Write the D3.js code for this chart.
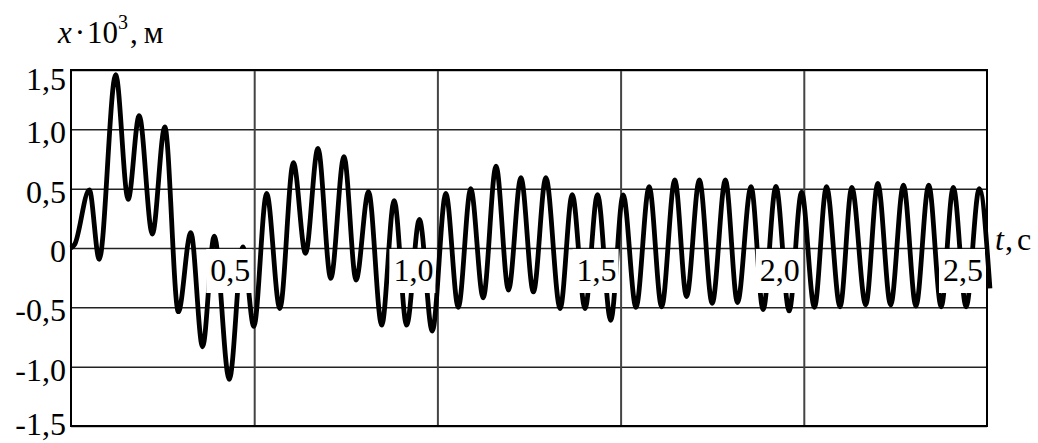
<!DOCTYPE html>
<html>
<head>
<meta charset="utf-8">
<script src="https://cdn.jsdelivr.net/npm/d3@7"></script>
<style>
  body { margin: 0; background: #fff; }
  svg text { font-family: "Liberation Serif", "Times New Roman", serif; fill: #000; }
</style>
</head>
<body>
<div id="chart"></div>
<script>
// chart size and plot box
const width = 1038;
const height = 443;
const plot_left = 71, plot_right = 987, plot_top = 70, plot_bottom = 426;

// time of each peak / trough (s)
const tValues = [
    0, 0.01, 0.05, 0.077, 0.122, 0.156, 0.186, 0.222, 0.256, 0.293, 0.327, 0.359, 0.391, 0.432, 0.469,
    0.499, 0.534, 0.570, 0.607, 0.640, 0.674, 0.709, 0.745, 0.778, 0.812, 0.848, 0.882, 0.916, 0.951,
    0.986, 1.023, 1.057, 1.091, 1.125, 1.160, 1.194, 1.228, 1.262, 1.296, 1.335, 1.368, 1.403, 1.437,
    1.473, 1.507, 1.542, 1.578, 1.612, 1.648, 1.680, 1.715, 1.750, 1.786, 1.819, 1.856, 1.889, 1.924,
    1.960, 1.994, 2.029, 2.062, 2.099, 2.131, 2.169, 2.202, 2.237, 2.272, 2.306, 2.341, 2.375, 2.408,
    2.443, 2.479, 2.508
];
// displacement x*10^3 (m) at those times
const xValues = [
    0, 0.03, 0.49, -0.095, 1.46, 0.41, 1.115, 0.118, 1.02, -0.537, 0.13, -0.832, 0.10, -1.107, 0.01,
    -0.66, 0.46, -0.51, 0.72, -0.045, 0.84, -0.256, 0.77, -0.27, 0.475, -0.65, 0.40, -0.65, 0.24,
    -0.70, 0.46, -0.50, 0.50, -0.42, 0.69, -0.354, 0.593, -0.37, 0.593, -0.51, 0.45, -0.51, 0.45,
    -0.61, 0.447, -0.50, 0.517, -0.495, 0.573, -0.41, 0.573, -0.466, 0.573, -0.46, 0.517, -0.52, 0.52,
    -0.53, 0.47, -0.50, 0.517, -0.495, 0.51, -0.48, 0.545, -0.48, 0.53, -0.49, 0.53, -0.495, 0.51,
    -0.495, 0.50, -0.34
];

// tick values
const yTicks = [-1.5, -1.0, -0.5, 0, 0.5, 1.0, 1.5];
const tTicks = [0.5, 1.0, 1.5, 2.0, 2.5];
const tTickLabels = ["0,5", "1,0", "1,5", "2,0", "2,5"];

const svg = d3.select("#chart")
    .append("svg")
    .attr("width", width)
    .attr("height", height)
    .attr("font-family", "Liberation Serif");

const x_scale = d3.scaleLinear().domain([0, 2.5]).range([plot_left, plot_right]);
const y_scale = d3.scaleLinear().domain([-1.5, 1.5]).range([plot_bottom, plot_top]);

const fmt = d => d === 0 ? "0" : d3.format(".1f")(d).replace(".", ",").replace("\u2212", "-");

// horizontal grid + y labels
const yAxis = svg.append("g")
    .attr("transform", `translate(${plot_left},0)`)
    .call(d3.axisLeft(y_scale).tickValues(yTicks).tickFormat(fmt).tickSize(-(plot_right - plot_left)).tickPadding(5));
yAxis.attr("font-family", "Liberation Serif");
yAxis.select(".domain").remove();
yAxis.selectAll(".tick line").attr("stroke", "#222").attr("stroke-width", 1.5);
yAxis.selectAll(".tick text")
    .attr("font-size", 32)
    .attr("dy", d => d === 1.5 ? "0.6em" : (d === -1.5 ? "0.28em" : "0.42em"));

// vertical grid
const xAxis = svg.append("g")
    .attr("transform", `translate(0,${plot_bottom})`)
    .call(d3.axisBottom(x_scale).tickValues(tTicks.slice(0, -1)).tickSize(-(plot_bottom - plot_top)).tickFormat(""));
xAxis.select(".domain").remove();
xAxis.selectAll(".tick line").attr("stroke", "#444").attr("stroke-width", 2);

// the curve
const line = d3.line()
    .x((d, i) => x_scale(tValues[i]))
    .y(d => y_scale(d))
    .curve(d3.curveMonotoneX);

svg.append("path")
    .datum(xValues)
    .attr("d", line)
    .attr("fill", "none")
    .attr("stroke", "#000")
    .attr("stroke-width", 4.8)
    .attr("stroke-linejoin", "round");

// time labels on the zero line, with white boxes
const y0 = y_scale(0);
const tl = svg.append("g").selectAll("g")
    .data(tTicks)
    .enter()
    .append("g");
tl.append("rect")
    .attr("x", d => x_scale(d) - 48)
    .attr("y", y0 + 1)
    .attr("width", 46)
    .attr("height", 44)
    .attr("fill", "#fff");
tl.append("text")
    .attr("x", d => x_scale(d) - 4)
    .attr("y", y0 + 33)
    .attr("text-anchor", "end")
    .attr("font-size", 32)
    .text((d, i) => tTickLabels[i]);

// frame
svg.append("rect")
    .attr("x", plot_left)
    .attr("y", plot_top)
    .attr("width", plot_right - plot_left)
    .attr("height", plot_bottom - plot_top)
    .attr("fill", "none")
    .attr("stroke", "#000")
    .attr("stroke-width", 2);

// axis titles
const yt = svg.append("text").attr("x", 58).attr("y", 43).attr("font-size", 31);
yt.append("tspan").attr("font-style", "italic").text("x");
yt.append("tspan").attr("dx", 3).text("\u00B7");
yt.append("tspan").attr("dx", 2).text("10");
yt.append("tspan").attr("dy", -14).attr("font-size", 20).text("3");
yt.append("tspan").attr("dy", 14).attr("dx", 2).text(",");
yt.append("tspan").attr("dx", 6).text("м");

const xt = svg.append("text").attr("x", 995).attr("y", 250).attr("font-size", 32);
xt.append("tspan").attr("font-style", "italic").text("t");
xt.append("tspan").attr("dx", 1).text(",");
xt.append("tspan").attr("dx", 4).text("c");
</script>
</body>
</html>
